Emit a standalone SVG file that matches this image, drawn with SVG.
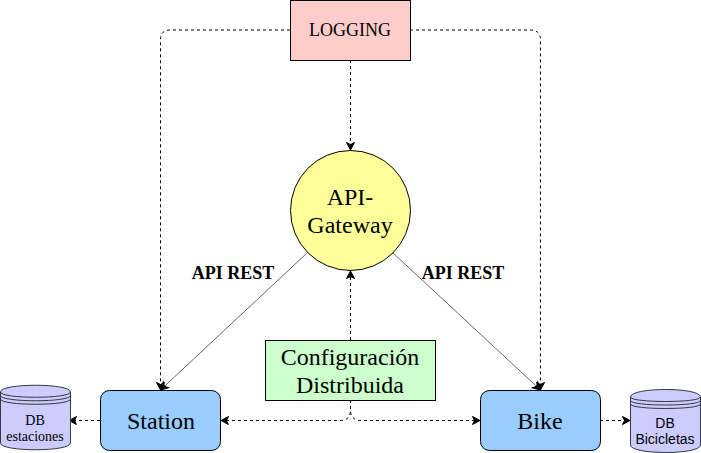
<svg xmlns="http://www.w3.org/2000/svg" width="701" height="453" viewBox="0 0 701 453">
<style>
.b{stroke:#000;stroke-width:1}
.t{font-family:"Liberation Serif",serif;fill:#000;text-anchor:middle}
.c{fill:none;stroke:#000;stroke-width:1;stroke-dasharray:3 3}
.g{fill:none;stroke:#666;stroke-width:1}
.d{fill:#ccccff;stroke:#36393d;stroke-width:1}
</style>
<defs>
<marker id="a" markerUnits="userSpaceOnUse" markerWidth="10" markerHeight="10" refX="7.500" refY="4" orient="auto" overflow="visible"><path d="M0 0L7.500 4L0 8L2 4Z" fill="#000" stroke="#000" stroke-width="1"/></marker>
</defs>
<g id="connectors">
<path class="c" d="M290 30H170Q160.500 30 160.500 40V390" marker-end="url(#a)"/>
<path class="c" d="M410 30H530Q540.500 30 540.500 40V390" marker-end="url(#a)"/>
<path class="c" d="M350.500 60V150" marker-end="url(#a)"/>
<path class="g" d="M307 253L160.500 390" marker-end="url(#a)"/>
<path class="g" d="M393 253L540.500 390" marker-end="url(#a)"/>
<path class="c" d="M350.500 340V271" marker-end="url(#a)"/>
<path class="c" d="M350.500 400V410Q350.500 420.500 340 420.500H221" marker-end="url(#a)"/>
<path class="c" d="M350.500 400V410Q350.500 420.500 361 420.500H480" marker-end="url(#a)"/>
<path class="c" d="M100 420.500H69" marker-end="url(#a)"/>
<path class="c" d="M600 420.500H630" marker-end="url(#a)"/>
</g>
<g id="logging"><rect class="b" x="290.500" y="0.500" width="120" height="60" fill="#ffcccc"/><text class="t" x="350" y="36" font-size="18">LOGGING</text></g>
<g id="gateway"><circle class="b" cx="350.500" cy="210.500" r="60" fill="#ffff99"/><text class="t" x="350" y="205" font-size="24">API-</text><text class="t" x="350" y="233" font-size="24">Gateway</text></g>
<g id="config"><rect class="b" x="265.500" y="340.500" width="170" height="60" fill="#ccffcc"/><text class="t" x="350" y="365" font-size="24">Configuración</text><text class="t" x="350" y="393" font-size="24">Distribuida</text></g>
<g id="station"><rect class="b" x="100.500" y="390.500" width="120" height="60" rx="9" fill="#99ccff"/><text class="t" x="161" y="429" font-size="24">Station</text></g>
<g id="bike"><rect class="b" x="480.500" y="390.500" width="120" height="60" rx="9" fill="#99ccff"/><text class="t" x="540" y="429" font-size="24">Bike</text></g>
<g id="db-estaciones">
<path class="d" d="M0.500 392C0.500 383 70.500 383 70.500 392V443C70.500 452 0.500 452 0.500 443Z"/>
<path fill="none" stroke="#36393d" d="M0.500 392C0.500 399 70.500 399 70.500 392M0.500 395.500C0.500 402.500 70.500 402.500 70.500 395.500M0.500 399C0.500 406 70.500 406 70.500 399"/>
<text class="t" x="35" y="425" font-size="14">DB</text><text class="t" x="35" y="441" font-size="14">estaciones</text></g>
<g id="db-bicicletas">
<path class="d" d="M630.500 397C630.500 387 700.500 387 700.500 397V445C700.500 455 630.500 455 630.500 445Z"/>
<path fill="none" stroke="#36393d" d="M630.500 397C630.500 403 700.500 403 700.500 397M630.500 400.500C630.500 406.500 700.500 406.500 700.500 400.500M630.500 404C630.500 410 700.500 410 700.500 404"/>
<text x="665" y="428" font-size="14" font-family="Liberation Sans, sans-serif" text-anchor="middle">DB</text><text x="665" y="444" font-size="14" font-family="Liberation Sans, sans-serif" text-anchor="middle">Bicicletas</text></g>
<g id="labels"><text class="t" x="233" y="279" font-size="18" font-weight="bold">API REST</text><text class="t" x="463" y="279" font-size="18" font-weight="bold">API REST</text></g>
</svg>
